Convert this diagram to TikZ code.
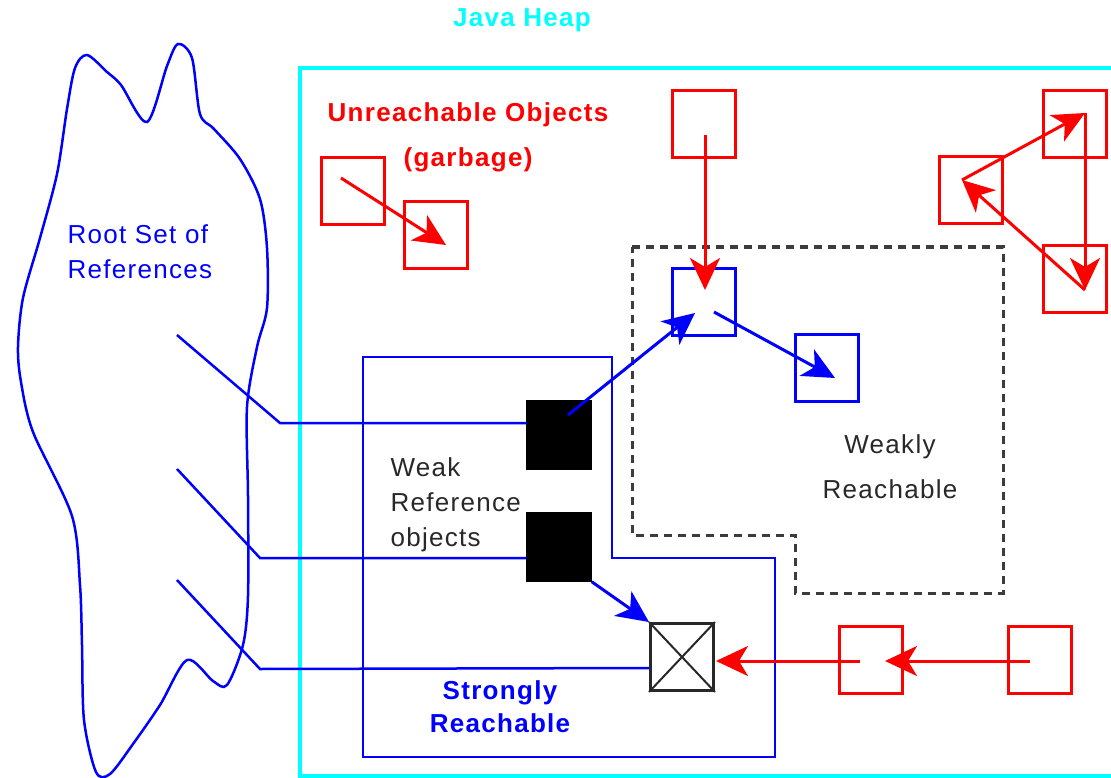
\documentclass[tikz,border=0pt]{standalone}
\usepackage{fontspec}
\setmainfont{Liberation Sans}[LetterSpace=5]
\usetikzlibrary{arrows.meta,calc}

\definecolor{heapcyan}{RGB}{0,255,255}
\definecolor{refblue}{RGB}{0,0,255}
\definecolor{garbred}{RGB}{255,0,0}
\definecolor{zonegray}{RGB}{60,60,60}
\definecolor{txtgray}{RGB}{40,40,40}

\tikzset{
  obj/.style={draw, line width=2.5pt, minimum width=63, minimum height=67, inner sep=0},
  redobj/.style={obj, garbred},
  blueobj/.style={obj, refblue},
  wrefobj/.style={obj, black, fill=black},
  clearedobj/.style={obj, draw=txtgray, line width=3pt, fill=white},
  headtip/.style={-{Stealth[length=32pt, width=30pt, inset=9pt]}},
  redarrow/.style={headtip, garbred, line width=3pt},
  bluearrow/.style={headtip, refblue, line width=3pt},
  rootline/.style={refblue, line width=2.5pt},
  heaptext/.style={font=\fontsize{26}{33}\selectfont\bfseries, text=heapcyan},
  redtext/.style={font=\fontsize{26}{45}\selectfont\bfseries, text=garbred, align=center},
  bluetext/.style={font=\fontsize{26}{33}\selectfont\bfseries, text=refblue, align=center},
  graytext/.style={font=\fontsize{26}{35}\selectfont, text=txtgray},
}

\begin{document}
\begin{tikzpicture}[x=1pt,y=-1pt]
\clip (0,0) rectangle (1111,778);
\useasboundingbox (0,0) rectangle (1111,778);

%Java Heap
\draw[heapcyan, line width=4pt] (300,68) rectangle (1130,776);
\node[heaptext] (heap) at (522,20) {Java Heap};

%Root set (cloud)
\draw[refblue, line width=2.5pt] plot[smooth cycle, tension=.5] coordinates {
  (75,68) (87,55) (107,72) (121,85) (147,122) (167,66) (178,44) (192,58)
  (200,114) (214,129) (240,159) (260,199) (267,248) (267,308) (257,347)
  (247,407) (248,496) (248,596) (243,645) (227,685) (213,681) (187,660)
  (160,705) (133,744) (110,774) (96,772) (84,720) (82,645) (80,585)
  (72,516) (33,432) (21,382) (18,347) (23,298) (40,238) (57,174) (67,109)};
\node[graytext, text=refblue, align=left, anchor=west] (root) at (64,252) {Root Set of\\References};

%Strongly reachable
\draw[refblue, line width=2.5pt] (363,357) -- (612,357) -- (612,558) -- (775,558)
  -- (775,757) -- (363,757) -- cycle;
\node[bluetext] (strong) at (500,707) {Strongly\\Reachable};

%Weakly reachable
\draw[zonegray, line width=3pt, dash pattern=on 8pt off 6pt] (632,247) -- (1003,247)
  -- (1003,593) -- (795,593) -- (795,535) -- (632,535) -- cycle;
\node[graytext, font=\fontsize{26}{45}\selectfont, align=center] (weak) at (890,467) {Weakly\\Reachable};

%Unreachable
\node[redtext] (garb) at (468,137) {Unreachable Objects\\(garbage)};

%objects
\node[wrefobj] (W1) at (559,435) {};
\node[wrefobj] (W2) at (559,547) {};
\node[clearedobj] (K) at (682,657) {};
\draw[txtgray, line width=2pt] (K.north west) -- (K.south east) (K.north east) -- (K.south west);
\node[graytext, align=left, anchor=west] (wref) at (387,505) {Weak\\Reference\\objects};

\node[blueobj] (A) at (704,302) {};
\node[blueobj] (B) at (827,368) {};

\node[redobj] (C) at (704,124) {};
\node[redobj] (D) at (353,191) {};
\node[redobj] (E) at (436,235) {};
\node[redobj] (F) at (971,190) {};
\node[redobj] (G) at (1075,124) {};
\node[redobj] (H) at (1075,279) {};
\node[redobj] (I) at (871,660) {};
\node[redobj] (J) at (1040,660) {};

%references from root set
\coordinate (r1) at (177,335);
\coordinate (r2) at (177,469);
\coordinate (r3) at (177,580);
\draw[rootline] (r1) -- ++(103,88) -- ($(W1.west)+(0,-12)$);
\draw[rootline] (r2) -- ++(83,89) -- ($(W2.west)+(0,11)$);
\draw[rootline] (r3) -- ++(83,89) -- ($(K.west)+(0,11)$);

%blue arrows
\draw[bluearrow] ($(W1)+(9,-20)$) -- ($(A)+(-9,11)$);
\draw[bluearrow] ($(A)+(10,10)$) -- ($(B)+(8,10)$);
\draw[bluearrow] (W2.south east) -- (K.north west);

%red arrows
\draw[redarrow] ($(D)+(-12,-13)$) -- ($(E)+(10,10)$);
\draw[redarrow] ($(C)+(1,11)$) -- ($(A)+(1,-12)$);
\draw[redarrow] ($(F)+(-9,-10)$) -- ($(G)+(10,-11)$);
\draw[redarrow] ($(G)+(10,-11)$) -- ($(H)+(10,11)$);
\draw[redarrow] ($(H)+(10,11)$) -- ($(F)+(-9,-10)$);
\draw[redarrow] ($(J)+(-10,1)$) -- ($(I)+(14,1)$);
\draw[redarrow] ($(I)+(-11,1)$) -- ($(K.east)+(1,4)$);
\end{tikzpicture}
\end{document}
